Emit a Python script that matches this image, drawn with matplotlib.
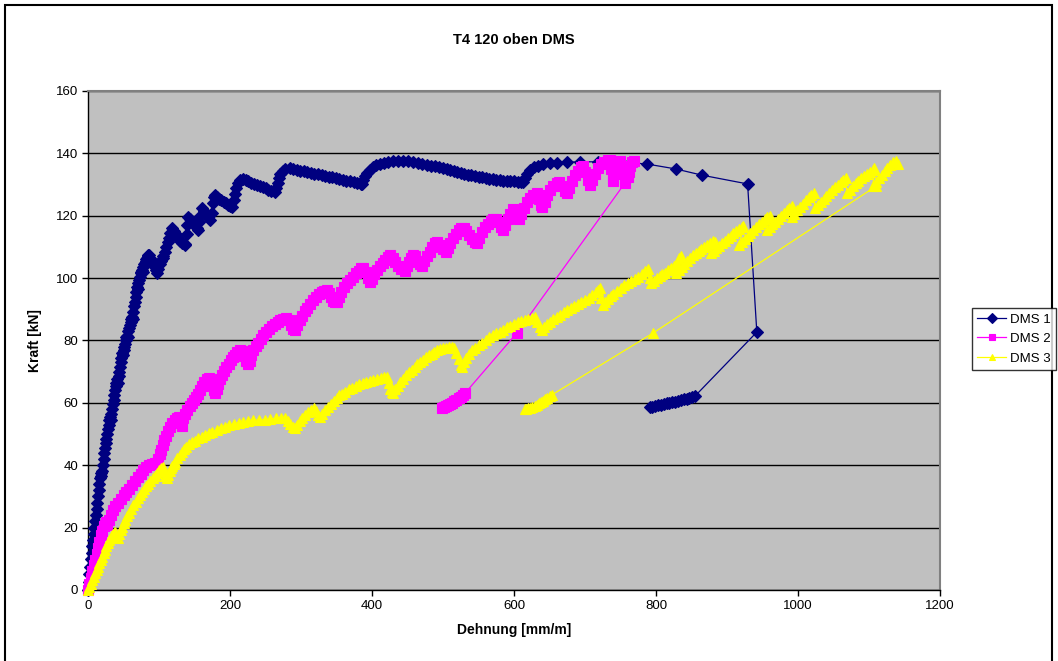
import matplotlib
matplotlib.use("Agg")
import matplotlib.pyplot as plt
from matplotlib.patches import Rectangle

plt.rcParams['font.family'] = ['Liberation Sans', 'DejaVu Sans']

TITLE = "T4 120 oben DMS"
X_LABEL = "Dehnung [mm/m]"
Y_LABEL = "Kraft [kN]"
SERIES_NAMES = ["DMS 1", "DMS 2", "DMS 3"]
X_TICKS = [0, 200, 400, 600, 800, 1000, 1200]
Y_TICKS = [0, 20, 40, 60, 80, 100, 120, 140, 160]

# DMS 1: strain [mm/m] / force [kN]
dms1_x = [0, 1, 2, 3, 4, 5, 6, 7, 8, 9, 10, 11, 12, 13, 14, 15, 16, 17, 18,
          19, 20, 21, 22, 23, 24, 25, 26, 27, 28, 29, 30, 31,
          32, 33, 34, 35, 36, 37, 38, 39, 40, 41,
          42, 43, 44, 45, 46, 47, 48,
          49, 50, 51, 52, 53, 54, 55,
          56, 57, 58, 59, 60, 61, 62,
          63, 64, 65, 66, 67, 68, 69,
          70, 71, 72, 73, 74, 75, 76,
          77, 78, 79, 80, 81, 82, 83, 84, 85, 86,
          88, 90, 92, 94, 96, 97,
          99, 101, 103, 105, 106,
          108, 110, 112, 114, 116, 118,
          121, 124, 127, 130, 133, 136, 137,
          139, 140, 141,
          144, 147, 150, 153, 155,
          157, 158, 160,
          163, 166, 169, 172,
          174, 176, 178, 179,
          182, 185, 188, 191, 194, 197, 200, 203,
          205, 207, 209, 211, 214, 218,
          222, 226, 230, 234, 238, 242, 246, 250, 254, 258, 263,
          265, 267, 269, 271, 274, 278, 284,
          289, 294, 299, 304, 309, 314, 319, 324, 329, 334, 339, 344, 349, 354,
          359, 364, 369, 374, 379, 384, 386,
          388, 390, 393, 397, 401, 406, 411, 417, 423, 430, 437, 444,
          451, 458, 465, 471, 477, 483, 489, 495, 500, 505, 510, 515, 520, 525,
          530, 535, 540, 545, 550, 555, 560, 565, 570, 575, 580, 585, 590, 595,
          600, 605, 610, 613,
          616, 619, 623, 628, 634, 641, 651, 660, 675, 693, 718, 751, 787, 828,
          865, 929, 942, 855,
          851, 847, 843, 839, 835, 831, 827, 823, 819, 815, 811, 807, 803, 799,
          795, 791]
dms1_y = [0, 2.5, 5, 7.5, 10, 12, 14, 16, 18, 20, 22, 24, 26, 28, 30, 32, 34, 36, 37.5,
          36.5, 38, 40, 42, 44, 45.5, 47, 48.5, 50, 51.5, 53, 54.5, 55.5,
          54.5, 56.5, 58, 59.5, 61, 62.5, 64, 65.5, 66.5, 67.5,
          66.5, 68.5, 70, 71.5, 73, 74.5, 76,
          75.5, 77, 78, 79, 80, 81, 81.5,
          81, 83, 84, 85, 86, 87, 87.5,
          87, 89, 91, 92.5, 94, 95.5, 97,
          96.5, 98.5, 99.5, 100.5, 101.5, 102, 102.5,
          102, 103.5, 104.5, 105, 105.5, 106, 106.5, 107, 107.3, 107.5,
          106.5, 105.5, 104.5, 103.5, 102.5, 101.8,
          103, 104.5, 105.5, 106.5, 107,
          108.5, 110, 111.5, 113, 114.5, 116,
          115, 114, 113, 112, 111.3, 110.8, 110.5,
          114, 117, 119.5,
          118.8, 118, 117, 116, 115.4,
          118, 120, 122.5,
          121.5, 120.5, 119.5, 118.6,
          121, 124, 126, 126.6,
          126, 125.5, 125, 124.5, 124, 123.5, 123, 122.8,
          125, 127, 129, 130.5, 131.5, 131.8,
          131.4, 131, 130.6, 130.3, 130, 129.6, 129.2, 128.8, 128.4, 128, 127.6,
          129, 130.5, 132, 133.3, 134.3, 134.9, 135.2,
          135, 134.8, 134.5, 134.3, 134, 133.8, 133.5, 133.3, 133, 132.8, 132.5, 132.3, 132, 131.8,
          131.5, 131.2, 131, 130.8, 130.5, 130.3, 130.2,
          131.5, 132.8, 133.8, 134.8, 135.6, 136.2, 136.6, 137, 137.3, 137.5, 137.6, 137.6,
          137.4, 137.2, 137, 136.7, 136.4, 136.1, 135.8, 135.5, 135.2, 134.9, 134.6, 134.3, 134, 133.8,
          133.5, 133.2, 133, 132.7, 132.5, 132.3, 132.1, 131.9, 131.7, 131.5, 131.4, 131.3, 131.2, 131.1,
          131, 130.9, 130.8, 130.7,
          132.2, 133.5, 134.6, 135.5, 136.1, 136.6, 136.9, 137, 137.2, 137.3, 137.3, 137.2, 136.6, 135,
          133, 130.2, 82.7, 62.2,
          62, 61.7, 61.4, 61.2, 61, 60.7, 60.4, 60.2, 60, 59.8, 59.6, 59.4, 59.2, 59,
          58.8, 58.6]

# DMS 2
dms2_x = [0, 2, 4, 6, 8, 10, 12, 14, 16, 18, 20, 22, 24, 26, 27, 29, 32, 35, 38,
          42, 46, 50, 54, 58, 62, 66, 70, 74, 78, 82, 86, 90, 94, 97,
          99, 101, 103, 105, 107, 110, 113, 116, 119, 122, 125, 128, 130, 132,
          134, 137, 140, 143, 146, 149, 152, 155, 158, 161, 164, 167, 170,
          173, 175, 177, 179, 181, 183, 186, 189, 192, 195, 198, 201, 204, 207,
          210, 214, 217, 220, 223, 226, 228, 230, 233, 236, 239, 243, 247, 251,
          255, 259, 263, 267, 271, 275, 279, 283, 286, 289, 292, 295, 298, 301,
          305, 309, 313, 317, 321, 325, 329, 333, 336, 339, 342, 345, 348, 351,
          354, 357, 361, 365, 369, 373, 377, 381, 385, 388, 391, 394, 397, 400,
          403, 407, 411, 415, 419, 422, 425, 429, 433, 437, 441, 446, 449, 452,
          455, 458, 461, 465, 468, 470, 473, 477, 481, 485, 489, 492, 496, 500,
          504, 507, 510, 514, 518, 522, 526, 529, 533, 537, 541, 545, 548, 551,
          555, 559, 563, 567, 571, 575, 578, 581, 584, 587, 591, 595, 599, 602,
          605, 607, 610, 614, 618, 622, 627, 632, 635, 638, 640, 643, 647, 651,
          655, 660, 664, 668, 672, 675, 678, 682, 686, 690, 694, 697, 700, 704,
          707, 710, 714, 718, 722, 727, 732, 735, 737, 739, 740, 742, 744, 746,
          749, 752, 755, 758, 760, 762, 764, 766, 769, 756, 604, 531,
          528, 525, 522, 519, 516, 513, 510, 507, 504, 501, 498]
dms2_y = [0, 2, 4, 6, 8, 9.6, 11.5, 13.5, 15.5, 17.5, 19, 20.5, 21, 21.8, 21, 22.5, 24, 25.5, 26.8,
          28, 29.2, 30.5, 31.5, 32.5, 33.8, 35, 36.2, 37.3, 38.4, 39.3, 40, 40.5, 40.7, 40.8,
          42, 43.5, 45, 46.5, 48, 49.5, 51, 52.3, 53.5, 54.5, 55.2, 55.5, 53.5, 52.5,
          55, 56.5, 57.8, 59, 60, 61, 62, 63, 64.2, 65.5, 66.6, 67.5, 68,
          67, 65.5, 64, 63.2, 64.5, 66, 67.5, 69, 70.3, 71.5, 72.6, 73.6, 74.6, 75.5,
          76.3, 77, 76.5, 75, 73.5, 72.5, 73.5, 75.5, 77, 78.3, 79.3, 80.5, 81.8, 82.8,
          83.7, 84.5, 85.3, 86, 86.6, 87, 87.2, 86.5, 85, 83.8, 83.3, 85, 86.6, 88,
          89.3, 90.5, 91.8, 93, 94, 94.8, 95.5, 96, 96.1, 95.3, 94, 92.8, 92.2, 92.5,
          94, 95.5, 97, 98.3, 99.4, 100.5, 101.5, 102.4, 103.1, 103.3, 102, 100, 98.8, 99.8,
          101.3, 102.6, 103.8, 104.8, 105.8, 106.7, 107.3, 106.5, 105.2, 104, 103, 102.3, 103.8, 105.3,
          106.5, 107.3, 107, 105.5, 104.4, 104, 105.5, 107, 108.5, 110, 111.2, 111.5, 110.5, 109.3,
          108.4, 109.5, 111.3, 113, 114.3, 115.3, 116, 116.1, 115, 113.7, 112.5, 111.6, 111.3, 113,
          114.8, 116.3, 117.5, 118.3, 118.8, 119, 118, 116.3, 115.4, 117, 119, 120.7, 122.3, 121.5,
          119.5, 118.8, 120.5, 122.5, 124.3, 125.8, 126.8, 127.3, 125.5, 123.5, 122.8, 124.5, 126.5, 128.2,
          129.5, 130.4, 130.8, 129.6, 128, 127.2, 128.8, 131, 133, 134.5, 135.5, 136, 134, 131.5,
          130, 131.5, 133.5, 135.2, 136.5, 137.3, 137.8, 138, 135, 132, 131, 133.5, 135.8, 137,
          137.6, 136, 134, 132.5, 132.3, 134, 136, 137.3, 137.5, 130.4, 82.4, 63.1,
          62.6, 62, 61.5, 61, 60.5, 60, 59.6, 59.2, 58.9, 58.6, 58.4]

# DMS 3
dms3_x = [0, 2, 4, 6, 8, 10, 12, 14, 16, 18, 20, 22, 24, 26, 28, 30, 32, 34, 36, 38,
          40, 42, 44, 46, 48, 50, 52, 55, 58, 61, 64, 67, 70, 73, 76, 79, 82, 85,
          88, 91, 94, 97, 100, 103, 105, 107, 109, 111, 113, 115, 117, 119, 121,
          123, 126, 129, 132, 135, 138, 142, 146, 150, 155, 160, 165, 170, 175,
          181, 187, 193, 199, 205, 212, 219, 226, 233, 241, 249, 257, 265, 272,
          277, 281, 285, 289, 292, 295, 298, 302, 306, 310, 314, 318, 321, 324,
          327, 330, 334, 338, 342, 346, 350, 354, 358, 362, 367, 372, 377, 382,
          387, 392, 397, 402, 407, 412, 417, 421, 424, 426, 428, 430, 433, 436,
          440, 444, 448, 452, 456, 460, 464, 468, 472, 476, 480, 484, 488, 492,
          496, 500, 504, 508, 512, 516, 519, 522, 525, 527, 530, 533, 537, 541,
          545, 550, 555, 560, 565, 570, 575, 580, 585, 590, 595, 600, 605, 610,
          615, 620, 625, 630, 633, 636, 639, 642, 646, 650, 655, 660, 665, 670,
          675, 680, 685, 690, 695, 700, 705, 710, 715, 719, 721, 723, 725, 728,
          732, 736, 740, 745, 750, 755, 760, 765, 770, 775, 780, 785, 789, 791,
          793, 797, 801, 805, 809, 813, 817, 821, 825, 829, 833, 835, 828, 832,
          836, 840, 844, 848, 852, 856, 860, 864, 868, 872, 876, 880, 883, 878,
          881, 885, 889, 893, 897, 901, 905, 909, 913, 917, 921, 923, 917, 921,
          925, 929, 933, 937, 941, 945, 949, 953, 957, 960, 956, 960, 964, 968,
          972, 976, 980, 984, 988, 992, 991, 995, 999, 1003, 1007, 1011, 1015, 1019,
          1022, 1024, 1028, 1032, 1036, 1040, 1044, 1048, 1052, 1056, 1060, 1064, 1067, 1069,
          1073, 1077, 1081, 1085, 1089, 1093, 1097, 1101, 1105, 1107, 1106, 1110, 1114, 1118,
          1122, 1126, 1130, 1134, 1138, 1141, 1110, 796, 653,
          650, 647, 644, 641, 638, 635, 632, 629, 626, 623, 620, 617, 615]
dms3_y = [0, 1, 2, 3.2, 4.3, 5.4, 6.5, 7.5, 8.5, 9.6, 10.7, 11.8, 12.9, 14, 15, 16, 16.8, 17.6, 18.2, 18.5,
          17.2, 16.7, 18, 19.2, 20.3, 21.4, 22.4, 23.6, 24.8, 26, 27.2, 28.3, 29.4, 30.4, 31.4, 32.3, 33.2, 34,
          35, 35.9, 36.7, 37.6, 38.4, 39.2, 39.5, 38, 36.5, 35.9, 36.8, 38, 39, 39.8, 40.4,
          41.2, 42.3, 43.4, 44.4, 45.3, 46, 46.7, 47.3, 47.9, 48.6, 49.2, 49.8, 50.3, 50.7,
          51.3, 51.8, 52.3, 52.8, 53.2, 53.6, 53.9, 54.2, 54.4, 54.5, 54.6, 54.8, 55, 55.2,
          55, 54.2, 53.2, 52.2, 51.9, 53, 54.2, 55.2, 56.1, 57, 57.8, 58.3, 57.5, 56,
          55.4, 56.5, 57.7, 58.8, 59.7, 60.7, 61.6, 62.4, 63, 63.6, 64.3, 64.9, 65.4, 65.9,
          66.3, 66.7, 67.1, 67.4, 67.7, 68, 68.2, 68.3, 66.5, 64.5, 63.5, 63.2, 64.3, 65.5,
          66.6, 67.7, 68.8, 69.8, 70.7, 71.6, 72.4, 73.2, 73.9, 74.6, 75.2, 75.8, 76.3, 76.8,
          77.2, 77.5, 77.7, 77.8, 77.8, 77.7, 76, 74, 72.3, 71.5, 73, 74.4, 75.7, 76.8,
          77.6, 78.4, 79.3, 80.2, 81, 81.7, 82.3, 82.8, 83.5, 84.2, 84.8, 85.3, 85.8, 86.2,
          86.6, 87, 87.3, 87.6, 86, 84.3, 83.3, 84.3, 85.3, 86, 86.8, 87.5, 88.3, 89,
          89.7, 90.4, 91, 91.6, 92.3, 93, 93.7, 94.6, 95.5, 96.3, 96.8, 93.5, 91.5, 92.3,
          93.3, 94.2, 95, 95.8, 96.8, 97.7, 98.5, 99.2, 99.8, 100.5, 101.3, 102.2, 103, 100,
          98.4, 99.2, 99.9, 100.6, 101.2, 101.8, 102.5, 103.2, 104, 105, 106.3, 107, 101.6, 102.5,
          103.5, 104.5, 105.5, 106.5, 107.3, 108, 108.6, 109.3, 110, 110.7, 111.3, 111.8, 111.5, 108,
          108.7, 109.5, 110.3, 111.2, 112, 112.8, 113.6, 114.4, 115.2, 115.9, 116.4, 116.6, 110.6, 111.6,
          112.6, 113.6, 114.6, 115.5, 116.4, 117.3, 118.1, 118.8, 119.5, 120, 115.4, 116.3, 117.2, 118,
          118.9, 119.8, 120.8, 121.8, 122.5, 123, 119.6, 120.7, 121.8, 122.9, 123.9, 124.9, 125.9, 126.8,
          127.3, 122.4, 123.4, 124.4, 125.4, 126.4, 127.3, 128.2, 129.1, 130, 130.8, 131.6, 132.1, 127.2,
          128.3, 129.4, 130.5, 131.3, 132, 132.7, 133.3, 134, 134.7, 135.3, 129.5, 130.8, 132, 133.2,
          134.3, 135.3, 136.3, 137.3, 137.5, 136.5, 129.5, 82.4, 62.5,
          62.1, 61.6, 61.1, 60.6, 60.2, 59.8, 59.4, 59, 58.7, 58.4, 58.2, 58, 57.9]

W, H = 1058, 661
fig = plt.figure(figsize=(W / 100, H / 100), dpi=100)

# outer chart frame
fig.patches.append(Rectangle((5 / W, -0.05), (1052 - 5) / W, 1.05 - 5 / H,
                             transform=fig.transFigure, fill=False,
                             edgecolor='black', linewidth=1.5))

ax = fig.add_axes([88 / W, 1 - 590 / H, (940 - 88) / W, (590 - 91) / H])
ax.set_facecolor('#C0C0C0')

styles = [
    dict(color='#000080', marker='D', markersize=6.0),
    dict(color='#FF00FF', marker='s', markersize=6.5),
    dict(color='#FFFF00', marker='^', markersize=7.5),
]
data = [(dms1_x, dms1_y), (dms2_x, dms2_y), (dms3_x, dms3_y)]
for (xs, ys), name, st in zip(data, SERIES_NAMES, styles):
    ax.plot(xs, ys, color=st['color'], linewidth=0.9, marker=st['marker'],
            markersize=st['markersize'], markerfacecolor=st['color'],
            markeredgecolor=st['color'], markeredgewidth=0.8, label=name,
            zorder=3, clip_on=False)

ax.set_xlim(0, 1200)
ax.set_ylim(0, 160)
ax.set_xticks(X_TICKS)
ax.set_yticks(Y_TICKS)
ax.yaxis.grid(True, color='black', linewidth=1.0)
ax.set_axisbelow(True)
ax.tick_params(axis='both', direction='out', length=4, width=1, color='black',
               labelsize=9.5, pad=3)
for side in ('left', 'bottom'):
    ax.spines[side].set_color('black')
    ax.spines[side].set_linewidth(1.0)
for side in ('top', 'right'):
    ax.spines[side].set_color('#808080')
    ax.spines[side].set_linewidth(1.5)

ax.set_xlabel(X_LABEL, fontsize=10, fontweight='bold', labelpad=8)
ax.set_ylabel(Y_LABEL, fontsize=10, fontweight='bold', labelpad=10)
fig.text(514 / W, 1 - 40 / H, TITLE, ha='center', va='center',
         fontsize=10.5, fontweight='bold')

leg = fig.legend(loc='upper left', bbox_to_anchor=(972 / W, 1 - 308 / H),
                 frameon=True, fancybox=False, fontsize=9.5, handlelength=2.2,
                 handletextpad=0.3, borderpad=0.4, labelspacing=0.55,
                 borderaxespad=0)
leg.get_frame().set_edgecolor('black')
leg.get_frame().set_linewidth(1.0)
for h in leg.legend_handles:
    h.set_markersize(4.8)

fig.savefig('out.png', dpi=100)
